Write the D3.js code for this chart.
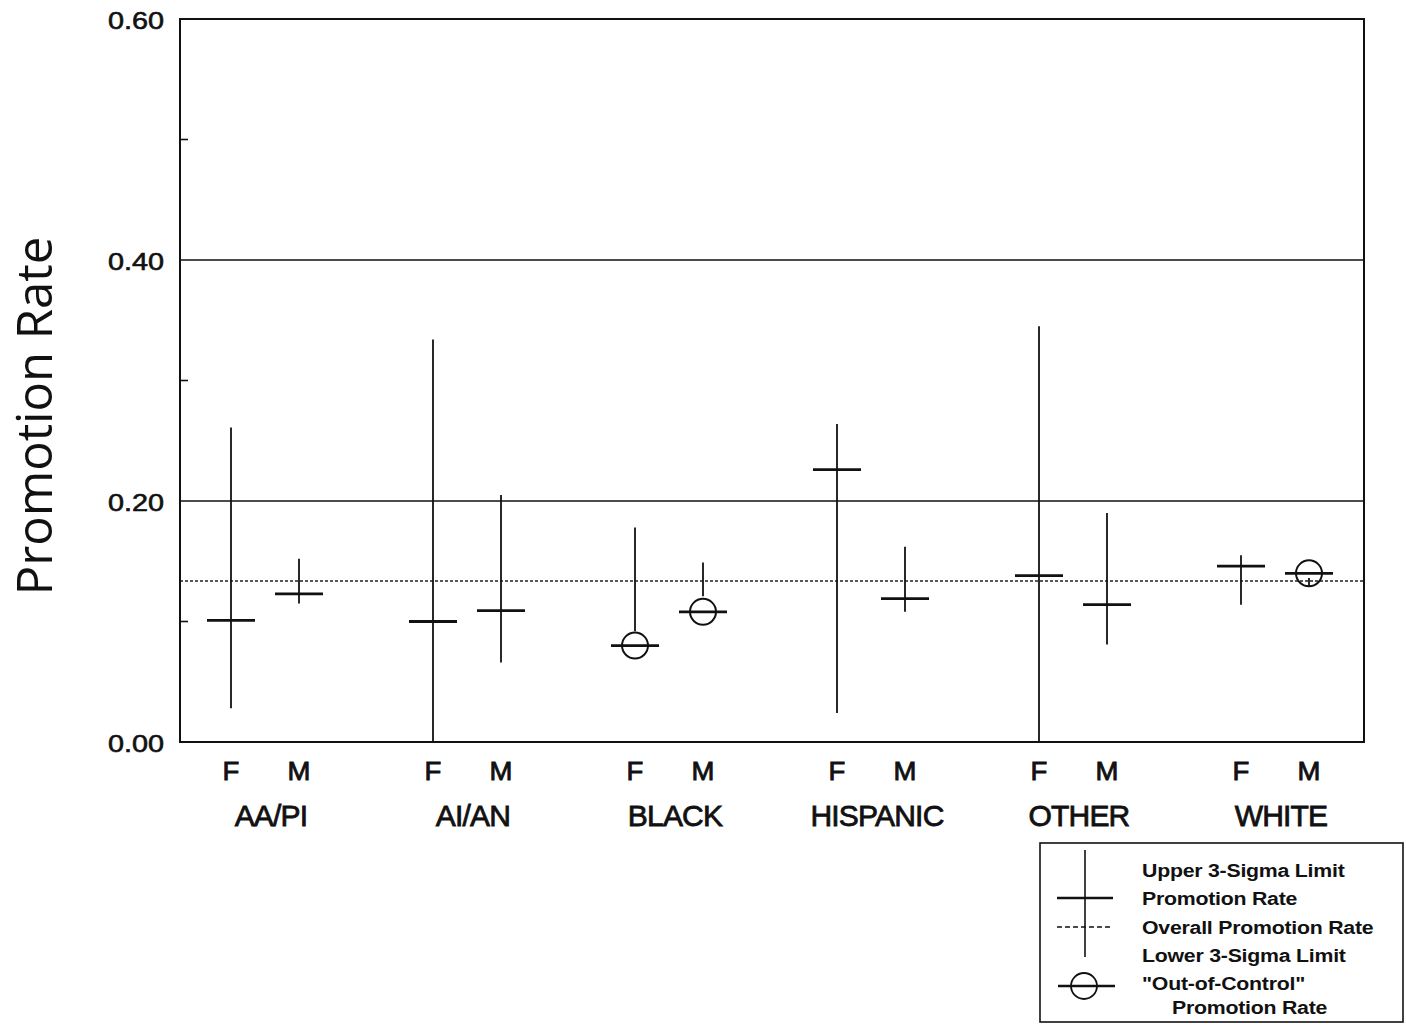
<!DOCTYPE html>
<html>
<head>
<meta charset="utf-8">
<script src="https://cdn.jsdelivr.net/npm/d3@7"></script>
<style>
  html, body { margin: 0; padding: 0; background: #fff; }
  svg { display: block; }
  text { font-family: "Liberation Sans", Arial, sans-serif; fill: #111; }
</style>
</head>
<body>
<svg id="chart" width="1406" height="1026"></svg>
<script>
// ---- data ----
const groups = ["AA/PI", "AI/AN", "BLACK", "HISPANIC", "OTHER", "WHITE"];
const sexes = ["F", "M"];
const rateF  = [0.101, 0.100, 0.080, 0.226, 0.138, 0.146];
const rateM  = [0.123, 0.109, 0.108, 0.119, 0.114, 0.140];
const upperF = [0.261, 0.334, 0.178, 0.264, 0.345, 0.155];
const upperM = [0.152, 0.205, 0.149, 0.162, 0.190, 0.136];
const lowerF = [0.028, 0.000, 0.092, 0.024, 0.000, 0.114];
const lowerM = [0.115, 0.066, 0.121, 0.108, 0.081, 0.129];
const overallRate = 0.1336;
const yTickValues = [0.0, 0.2, 0.4, 0.6];
const yMinorTicks = [0.1, 0.3, 0.5];
const gridValues = [0.2, 0.4];
const legendLabels = ["Upper 3-Sigma Limit", "Promotion Rate", "Overall Promotion Rate", "Lower 3-Sigma Limit", "\"Out-of-Control\"", "Promotion Rate"];

const rows = [];
groups.forEach((g, i) => {
  rows.push({ group: g, sex: "F", rate: rateF[i], upper: upperF[i], lower: lowerF[i] });
  rows.push({ group: g, sex: "M", rate: rateM[i], upper: upperM[i], lower: lowerM[i] });
});

// ---- layout ----
const svg = d3.select("#chart");
const plot = { left: 180, right: 1364, top: 19, bottom: 742 };

const y = d3.scaleLinear().domain([0, 0.6]).range([plot.bottom, plot.top]);
const xg = d3.scalePoint().domain(groups).range([266, 1276]);
const xs = d3.scalePoint().domain(sexes).range([-35, 33]);
const xPos = d => xg(d.group) + xs(d.sex);

// gridlines
svg.append("g").selectAll("line").data(gridValues).join("line")
  .attr("x1", plot.left).attr("x2", plot.right)
  .attr("y1", d => y(d)).attr("y2", d => y(d))
  .attr("stroke", "#111").attr("stroke-width", 1.6);

// overall rate dotted line
svg.append("line")
  .attr("x1", plot.left).attr("x2", plot.right)
  .attr("y1", y(overallRate)).attr("y2", y(overallRate))
  .attr("stroke", "#222").attr("stroke-width", 1.5)
  .attr("stroke-dasharray", "3,2");

// y axis
const yAxis = d3.axisLeft(y).tickValues(yTickValues).tickFormat(d3.format(".2f")).tickSize(0).tickPadding(16);
const yAx = svg.append("g").attr("transform", `translate(${plot.left},0)`).call(yAxis);
yAx.select(".domain").remove();
yAx.selectAll(".tick text")
  .attr("x", null).attr("dy", null)
  .attr("transform", "translate(-16, 9) scale(1.2,1)")
  .style("font-size", "24px")
  .attr("fill", "#111").attr("stroke", "#111").attr("stroke-width", 0.6);

// minor ticks (inward)
svg.append("g").selectAll("line").data(yMinorTicks).join("line")
  .attr("x1", plot.left).attr("x2", plot.left + 8)
  .attr("y1", d => y(d)).attr("y2", d => y(d))
  .attr("stroke", "#111").attr("stroke-width", 1.6);

// frame
svg.append("rect")
  .attr("x", plot.left).attr("y", plot.top)
  .attr("width", plot.right - plot.left).attr("height", plot.bottom - plot.top)
  .attr("fill", "none").attr("stroke", "#111").attr("stroke-width", 2);

// y label
svg.append("text")
  .attr("transform", `translate(52, 416) rotate(-90)`)
  .attr("text-anchor", "middle")
  .style("font-family", "'Open Sans', 'Noto Sans', sans-serif")
  .style("font-size", "49px")
  .text("Promotion Rate");

// x labels: sex
svg.append("g").selectAll("text").data(rows).join("text")
  .attr("transform", d => `translate(${xPos(d)}, 780) scale(1.1,1)`)
  .attr("text-anchor", "middle")
  .style("font-size", "25px")
  .attr("stroke", "#111").attr("stroke-width", 0.8)
  .text(d => d.sex);

// x labels: groups
svg.append("g").selectAll("text").data(groups).join("text")
  .attr("x", d => xg(d) + 5).attr("y", 826)
  .attr("text-anchor", "middle")
  .style("font-size", "30px").style("letter-spacing", "-0.8px")
  .attr("stroke", "#111").attr("stroke-width", 0.8)
  .text(d => d);

// marks
const marks = svg.append("g");
const half = 24;
marks.selectAll("line.v").data(rows).join("line").attr("class", "v")
  .attr("x1", d => xPos(d)).attr("x2", d => xPos(d))
  .attr("y1", d => y(d.upper)).attr("y2", d => y(d.lower))
  .attr("stroke", "#111").attr("stroke-width", 1.8);
marks.selectAll("line.h").data(rows).join("line").attr("class", "h")
  .attr("x1", d => xPos(d) - half).attr("x2", d => xPos(d) + half)
  .attr("y1", d => y(d.rate)).attr("y2", d => y(d.rate))
  .attr("stroke", "#111").attr("stroke-width", 2.8);
marks.selectAll("circle").data(rows.filter(d => d.rate < d.lower || d.rate > d.upper)).join("circle")
  .attr("cx", d => xPos(d)).attr("cy", d => y(d.rate))
  .attr("r", 13)
  .attr("fill", "none").attr("stroke", "#111").attr("stroke-width", 2);

// legend
const lg = svg.append("g");
lg.append("rect").attr("x", 1040).attr("y", 843).attr("width", 363).attr("height", 179)
  .attr("fill", "none").attr("stroke", "#111").attr("stroke-width", 1.6);
lg.append("line").attr("x1", 1085).attr("x2", 1085).attr("y1", 850).attr("y2", 957)
  .attr("stroke", "#111").attr("stroke-width", 1.6);
lg.append("line").attr("x1", 1057).attr("x2", 1113).attr("y1", 898).attr("y2", 898)
  .attr("stroke", "#111").attr("stroke-width", 2.4);
lg.append("line").attr("x1", 1057).attr("x2", 1113).attr("y1", 927).attr("y2", 927)
  .attr("stroke", "#111").attr("stroke-width", 1.4).attr("stroke-dasharray", "5,3");
lg.append("circle").attr("cx", 1084).attr("cy", 986).attr("r", 13)
  .attr("fill", "none").attr("stroke", "#111").attr("stroke-width", 1.8);
lg.append("line").attr("x1", 1058).attr("x2", 1115).attr("y1", 986).attr("y2", 986)
  .attr("stroke", "#111").attr("stroke-width", 2.4);
const legY = [877, 905, 934, 962, 990, 1014];
const legX = [1142, 1142, 1142, 1142, 1142, 1172];
lg.selectAll("text").data(legendLabels).join("text")
  .attr("transform", (d, i) => `translate(${legX[i]}, ${legY[i]}) scale(1.12,1)`)
  .style("font-size", "19px").style("font-weight", "bold").style("letter-spacing", "-0.2px")
  .text(d => d);
</script>
</body>
</html>
